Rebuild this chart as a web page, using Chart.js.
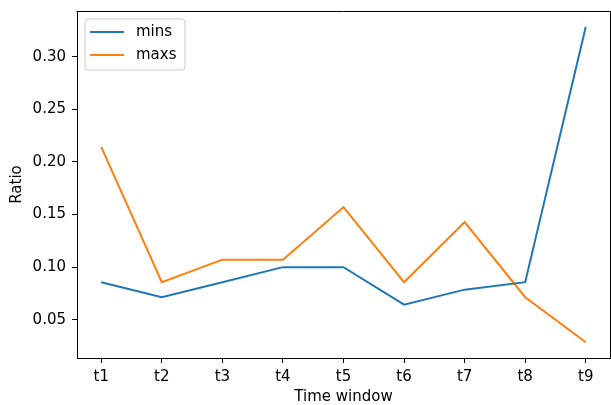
<!DOCTYPE html>
<html>
<head>
<meta charset="utf-8">
<script src="https://cdn.jsdelivr.net/npm/chart.js@4/dist/chart.umd.min.js"></script>
<style>
  html, body { margin: 0; padding: 0; background: #fff; }
  #wrap { width: 611px; height: 405px; }
</style>
</head>
<body>
<div id="wrap"><canvas id="c" width="611" height="405"></canvas></div>
<script>
// Time windows on the x axis
const categories = ['t1', 't2', 't3', 't4', 't5', 't6', 't7', 't8', 't9'];
// Ratio per time window
const mins = [0.0857, 0.0714, 0.0857, 0.1000, 0.1000, 0.0643, 0.0786, 0.0857, 0.3286];
const maxs = [0.2143, 0.0857, 0.1071, 0.1071, 0.1571, 0.0857, 0.1429, 0.0714, 0.0286];
// Y tick values
const yTicks = [0.05, 0.10, 0.15, 0.20, 0.25, 0.30];

const FONT = 'DejaVu Sans';
const FS = 15;
const toPoints = arr => arr.map((v, i) => ({ x: i, y: v }));

// y range with 5% margins around the data
const all = mins.concat(maxs);
const lo = Math.min(...all), hi = Math.max(...all);
const pad = (hi - lo) * 0.05;
const xPad = (categories.length - 1) * 0.05;

// Fixed axis sizes, no extra room for overflowing tick labels
function fitX(s) { s.height = 47; s.paddingLeft = 0; s.paddingRight = 0; }
function fitY(s) { s.width = 77; s.paddingTop = 0; s.paddingBottom = 0; }

// Top and right spines plus a legend in the upper-left corner
const framePlugin = {
  id: 'frame',
  afterDraw(chart) {
    const { ctx, chartArea: a } = chart;
    ctx.save();
    ctx.strokeStyle = '#000';
    ctx.lineWidth = 1;
    const t = Math.round(a.top) + 0.5, r0 = Math.round(a.right) + 0.5;
    const l = Math.round(a.left) - 0.5, b = Math.round(a.bottom) + 0.5;
    ctx.beginPath();
    ctx.moveTo(l, t); ctx.lineTo(r0, t); ctx.lineTo(r0, b);
    ctx.stroke();

    // legend
    const x0 = a.left + 8, y0 = a.top + 8, w = 100, h = 51, r = 3;
    ctx.beginPath();
    ctx.moveTo(x0 + r, y0);
    ctx.arcTo(x0 + w, y0, x0 + w, y0 + h, r);
    ctx.arcTo(x0 + w, y0 + h, x0, y0 + h, r);
    ctx.arcTo(x0, y0 + h, x0, y0, r);
    ctx.arcTo(x0, y0, x0 + w, y0, r);
    ctx.closePath();
    ctx.fillStyle = 'rgba(255,255,255,0.8)';
    ctx.fill();
    ctx.strokeStyle = '#cccccc';
    ctx.lineWidth = 1;
    ctx.stroke();

    ctx.font = FS + 'px "' + FONT + '"';
    ctx.textBaseline = 'middle';
    chart.data.datasets.forEach((ds, i) => {
      const ly = y0 + 13 + i * 23;
      ctx.beginPath();
      ctx.moveTo(x0 + 5, ly);
      ctx.lineTo(x0 + 39, ly);
      ctx.strokeStyle = ds.borderColor;
      ctx.lineWidth = 2;
      ctx.stroke();
      ctx.fillStyle = '#000';
      ctx.fillText(ds.label, x0 + 51, ly);
    });
    ctx.restore();
  }
};

new Chart(document.getElementById('c'), {
  type: 'line',
  data: {
    datasets: [
      { label: 'mins', data: toPoints(mins), borderColor: '#1f77b4', backgroundColor: '#1f77b4',
        borderWidth: 2, pointRadius: 0, tension: 0, fill: false },
      { label: 'maxs', data: toPoints(maxs), borderColor: '#ff7f0e', backgroundColor: '#ff7f0e',
        borderWidth: 2, pointRadius: 0, tension: 0, fill: false }
    ]
  },
  options: {
    responsive: false,
    animation: false,
    devicePixelRatio: 1,
    layout: { padding: { top: 11, right: 1, left: 0, bottom: 0 } },
    plugins: { legend: { display: false }, tooltip: { enabled: false } },
    scales: {
      x: {
        type: 'linear',
        min: -xPad,
        max: categories.length - 1 + xPad,
        afterBuildTicks: s => { s.ticks = categories.map((_, i) => ({ value: i })); },
        afterFit: fitX,
        grid: { drawOnChartArea: false, drawTicks: true, tickLength: 5, color: '#000' },
        border: { display: true, color: '#000', width: 1 },
        ticks: {
          color: '#000', padding: 5, maxRotation: 0, autoSkip: false,
          font: { family: FONT, size: FS },
          callback: v => categories[v]
        },
        title: {
          display: true, text: 'Time window', color: '#000',
          font: { family: FONT, size: FS, lineHeight: 1 }, padding: { top: 2, bottom: 0 }
        }
      },
      y: {
        min: lo - pad,
        max: hi + pad,
        afterBuildTicks: s => { s.ticks = yTicks.map(v => ({ value: v })); },
        afterFit: fitY,
        grid: { drawOnChartArea: false, drawTicks: true, tickLength: 5, color: '#000' },
        border: { display: true, color: '#000', width: 1 },
        ticks: {
          color: '#000', padding: 6,
          font: { family: FONT, size: FS },
          callback: v => v.toFixed(2)
        },
        title: {
          display: true, text: 'Ratio', color: '#000',
          font: { family: FONT, size: FS }, padding: { top: 8, bottom: 4 }
        }
      }
    }
  },
  plugins: [framePlugin]
});
</script>
</body>
</html>
